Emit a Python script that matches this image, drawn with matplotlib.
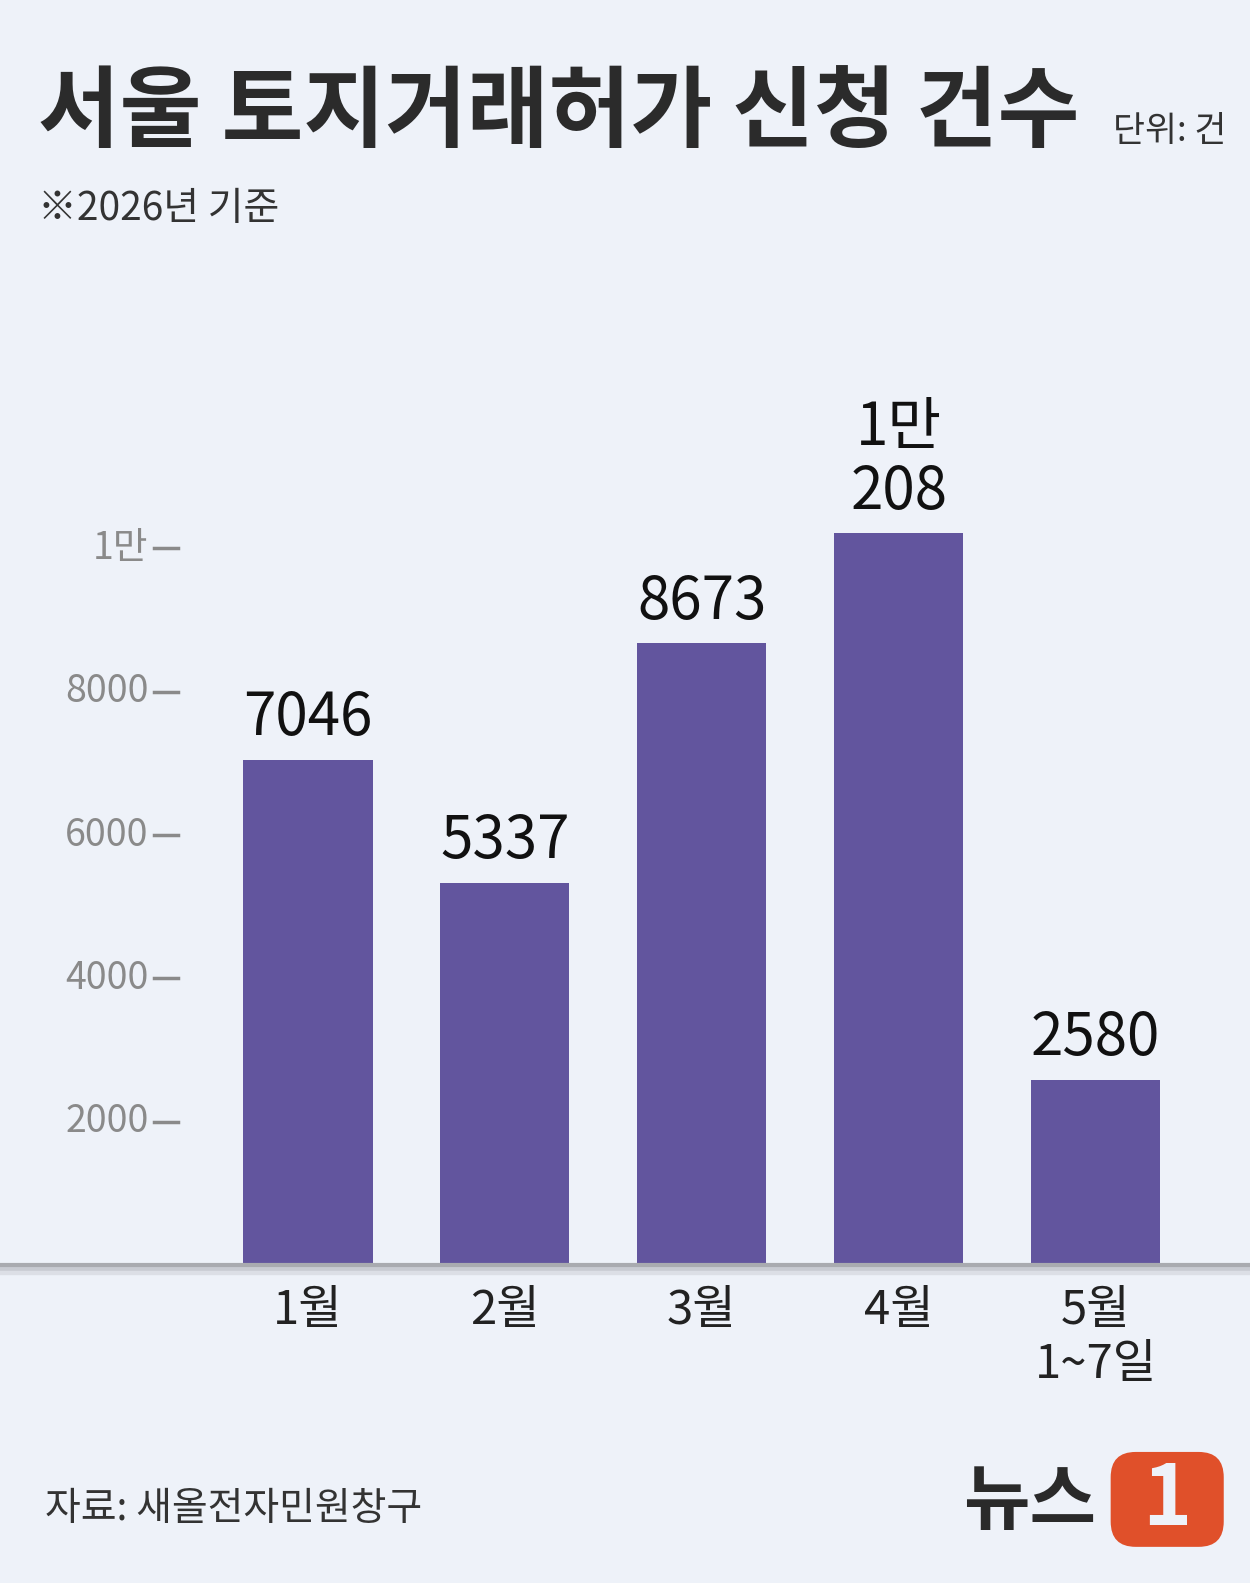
import matplotlib
matplotlib.use("Agg")
import matplotlib.pyplot as plt
from matplotlib.patches import FancyBboxPatch
from matplotlib.transforms import blended_transform_factory

plt.rcParams['font.family'] = ['Noto Sans CJK KR', 'DejaVu Sans']

categories = ["1월", "2월", "3월", "4월", "5월\n1~7일"]
values = [7046, 5337, 8673, 10208, 2580]
value_labels = ["7046", "5337", "8673", "1만\n208", "2580"]
yticks = [2000, 4000, 6000, 8000, 10000]
ytick_labels = ["2000", "4000", "6000", "8000", "1만"]

W, H = 1250, 1583
S = 1250 / 1238
bg = "#eef2f9"
fig = plt.figure(figsize=(12.5, 15.83), dpi=100, facecolor=bg)

def fx(px): return px * S / W
def fy(py): return 1 - py * S / H

ax = fig.add_axes([fx(180), fy(1253), fx(1238) - fx(180), fy(300) - fy(1253)])
ax.set_facecolor(bg)
ax.set_xlim(-(305 - 180) / 195, (1238 - 305) / 195)
ax.set_ylim(0, (1253 - 300) / 142 * 2000)
ax.axis("off")

ax.bar(range(len(values)), values, width=0.656, color="#62559e", zorder=2)
for i, (v, lab) in enumerate(zip(values, value_labels)):
    ax.text(i, v + 150, lab, ha="center", va="bottom", fontsize=42, color="#111111",
            linespacing=1.05, fontweight="medium")

tr = blended_transform_factory(fig.transFigure, ax.transData)
for t, lab in zip(yticks, ytick_labels):
    fig.text(fx(147), t, lab, transform=tr, ha="right", va="center", fontsize=27, color="#8a8a8a")
    fig.lines.append(plt.Line2D([fx(153), fx(176)], [t, t], transform=tr, color="#8a8a8a", lw=2.5))

for off, c, lw in [(6, "#dcdfe6", 6), (3, "#c8cbd2", 4), (0, "#a9abb0", 3)]:
    fig.lines.append(plt.Line2D([0, 1], [fy(1253 + off), fy(1253 + off)], transform=fig.transFigure, color=c, lw=lw))

for i, c in enumerate(categories):
    ax.text(i, -300, c, ha="center", va="top", fontsize=34, color="#222222", linespacing=1.15)

fig.text(fx(38), fy(113), "서울 토지거래허가 신청 건수", fontsize=64, fontweight="bold",
         color="#2b2b2b", va="center", ha="left")
fig.text(fx(1215), fy(130), "단위: 건", fontsize=25, color="#333333", ha="right", va="center")
fig.text(fx(38), fy(207), "※2026년 기준", fontsize=28, color="#333333", ha="left", va="center")
fig.text(fx(45), fy(1495), "자료: 새올전자민원창구", fontsize=28, color="#333333", ha="left", va="center")

fig.text(fx(1085), fy(1488), "뉴스", fontsize=52, fontweight="black", style="italic",
         color="#2a2a2a", ha="right", va="center")
box = FancyBboxPatch((fx(1100), fy(1532)), fx(112), fy(1438) - fy(1532),
                     boxstyle="round,pad=0,rounding_size=0.02", transform=fig.transFigure,
                     facecolor="#e0502a", edgecolor="none", mutation_aspect=0.8)
fig.patches.append(box)
fig.text(fx(1156), fy(1486), "1", fontsize=60, fontweight="black", style="italic",
         color=bg, ha="center", va="center")

fig.savefig("out.png", dpi=100, facecolor=bg)
